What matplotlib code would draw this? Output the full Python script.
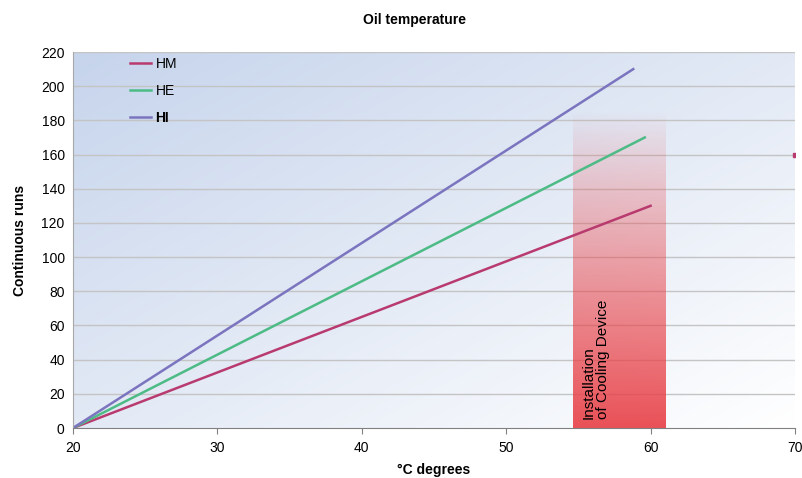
import numpy as np
import matplotlib
matplotlib.use("Agg")
import matplotlib.pyplot as plt
from matplotlib.colors import to_rgb

plt.rcParams["font.family"] = ["Liberation Sans", "DejaVu Sans"]
plt.rcParams["font.size"] = 10

# series (start at 20 °C / 0 runs, end point)
hm_x = [20, 60]
hm_y = [0, 130]
he_x = [20, 59.6]
he_y = [0, 170]
hi_x = [20, 58.8]
hi_y = [0, 210]
# stray HM point at the right edge
hm_dot_x = [70]
hm_dot_y = [160]

band_x = (54.6, 61.0)
band_top = 185
band_label = "Installation\nof Cooling Device"

x_ticks = [20, 30, 40, 50, 60, 70]
y_ticks = list(range(0, 221, 20))

c_hm = "#b83a6f"
c_he = "#4dbb85"
c_hi = "#7b74bf"

fig = plt.figure(figsize=(8.03, 4.78), dpi=100)
ax = fig.add_axes([0.0909, 0.1046, 0.8991, 0.7866])

# diagonal gradient background, blue top-left -> white bottom-right
n = 200
gx, gy = np.meshgrid(np.linspace(0, 1, n), np.linspace(0, 1, n))
t = np.clip((gx + gy) / 2.0, 0, 1)
c0 = np.array(to_rgb("#c6d4ec"))
c1 = np.array(to_rgb("#ffffff"))
bg = c0[None, None, :] * (1 - t[..., None]) + c1[None, None, :] * t[..., None]
ax.imshow(bg, extent=(0, 1, 0, 1), transform=ax.transAxes, aspect="auto",
          origin="upper", zorder=0)

for yv in y_ticks[1:]:
    ax.axhline(yv, color="#c4c4c4", lw=1, zorder=1)

# red band fading upwards
m = 200
alpha = 0.93 * np.linspace(1, 0, m) ** 0.9
red = np.zeros((m, 2, 4))
red[..., :3] = to_rgb("#e8444a")
red[..., 3] = alpha[:, None]
ax.imshow(red, extent=(band_x[0], band_x[1], 0, band_top), origin="lower",
          aspect="auto", zorder=2)

ax.plot(hm_x, hm_y, color=c_hm, lw=1.8, label="HM", zorder=3)
ax.plot(he_x, he_y, color=c_he, lw=1.8, label="HE", zorder=3)
ax.plot(hi_x, hi_y, color=c_hi, lw=1.8, label="HI", zorder=3)
ax.plot(hm_dot_x, hm_dot_y, marker="s", ms=3, color=c_hm, lw=0, zorder=3)

ax.text(56.2, 5, band_label, rotation=90, ha="center", va="bottom",
        multialignment="left", fontsize=11, linespacing=1.0, zorder=4)

ax.set_xlim(20, 70)
ax.set_ylim(0, 220)
ax.set_xticks(x_ticks)
ax.set_yticks(y_ticks)
ax.tick_params(axis="x", length=4, color="#808080", labelsize=10, pad=5)
ax.tick_params(axis="y", length=0, labelsize=10, pad=6)

for s in ["top", "right"]:
    ax.spines[s].set_visible(False)
ax.spines["left"].set_color("#a8a8a8")
ax.spines["bottom"].set_color("#808080")
ax.spines["left"].set_zorder(5)
ax.spines["bottom"].set_zorder(5)

fig.text(415 / 803, 1 - 20 / 478, "Oil temperature", fontsize=10, weight="bold",
         ha="center", va="center")
ax.set_xlabel("°C degrees", fontsize=10, weight="bold", labelpad=6)
ax.set_ylabel("Continuous runs", fontsize=10, weight="bold", labelpad=10)

leg = ax.legend(loc="upper left", bbox_to_anchor=(0.069, 1.006), frameon=False,
                handlelength=1.55, handletextpad=0.3, labelspacing=0.95,
                borderpad=0, fontsize=10)
leg.get_texts()[2].set_weight("bold")

plt.savefig("out.png", dpi=100)
